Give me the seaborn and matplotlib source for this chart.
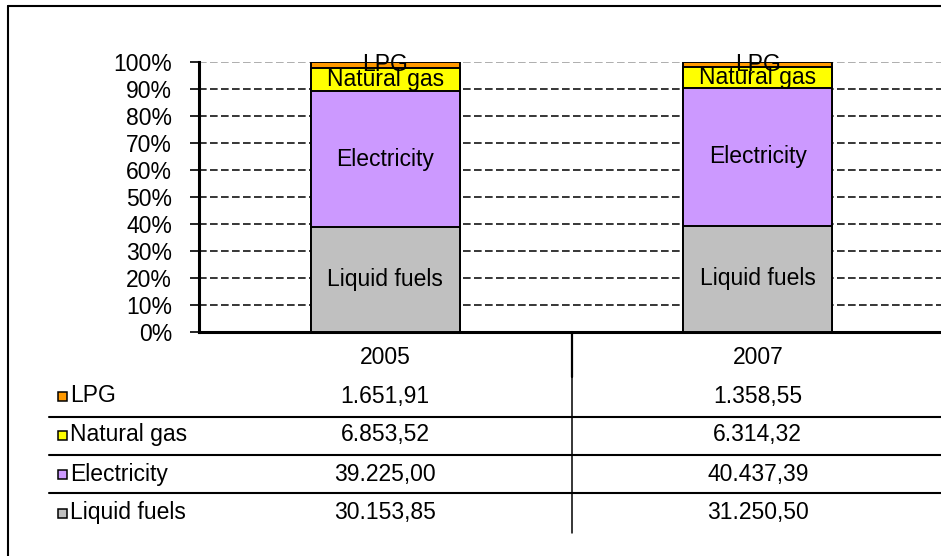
import numpy as np
import pandas as pd
import matplotlib
matplotlib.use("Agg")
import matplotlib.pyplot as plt
from matplotlib.lines import Line2D
from matplotlib.patches import Rectangle
import seaborn as sns

# data
years = ["2005", "2007"]
series_names = ["Liquid fuels", "Electricity", "Natural gas", "LPG"]
liquid_fuels = [30153.85, 31250.50]
electricity = [39225.00, 40437.39]
natural_gas = [6853.52, 6314.32]
lpg = [1651.91, 1358.55]
series_colors = ["#C0C0C0", "#CC99FF", "#FFFF00", "#FF9900"]
y_ticks = [0, 10, 20, 30, 40, 50, 60, 70, 80, 90, 100]

df = pd.DataFrame({"year": years, "Liquid fuels": liquid_fuels,
                   "Electricity": electricity, "Natural gas": natural_gas,
                   "LPG": lpg})
share = df[series_names].div(df[series_names].sum(axis=1), axis=0) * 100
cum = share.cumsum(axis=1)

sns.set_style("white")
plt.rcParams["font.family"] = ["Liberation Sans", "DejaVu Sans"]
plt.rcParams["font.size"] = 16.5
plt.rcParams["text.color"] = "black"

W, H = 941, 556
fig = plt.figure(figsize=(W / 100, H / 100), dpi=100)
ax = fig.add_axes([199 / W, 1 - 332 / H, 745 / W, 270 / H])

# stacked look: draw cumulative bars from the tallest down
for name, color in reversed(list(zip(series_names, series_colors))):
    sns.barplot(x=df["year"], y=cum[name], color=color, saturation=1,
                edgecolor="black", linewidth=1.4, width=0.4,
                errorbar=None, ax=ax, zorder=3)

ax.set_xlim(-0.5, 1.5)
ax.set_ylim(0, 100)
ax.set_xlabel("")
ax.set_ylabel("")
ax.set_xticks([])
ax.set_yticks(y_ticks)
ax.set_yticklabels([f"{t}%" for t in y_ticks])
ax.tick_params(axis="y", left=True, length=6.5, width=1.2, pad=13,
               color="black", labelcolor="black")

ax.set_axisbelow(True)
ax.yaxis.grid(True, color="black", linestyle=(0, (5, 2.2)), linewidth=1.1)
gl = ax.get_ygridlines()
gl[-1].set_color("#999999")
gl[0].set_visible(False)

for side in ["top", "right"]:
    ax.spines[side].set_visible(False)
for side in ["left", "bottom"]:
    ax.spines[side].set_linewidth(2.2)
    ax.spines[side].set_color("black")

# segment labels
for i in range(len(years)):
    bottom = 0
    for name in series_names:
        top = cum[name][i]
        ax.text(i, (bottom + top) / 2, name, ha="center", va="center",
                fontsize=16.5, color="black", zorder=5)
        bottom = top

# data table below the plot
xt = ax.get_xaxis_transform()
def ypos(px):
    return (332 - px) / 270

for i, yr in enumerate(years):
    ax.text(i, ypos(357), yr, transform=xt, ha="center", va="center",
            clip_on=False)

row_y = [396, 435, 474, 513]
rows = list(reversed(series_names))
row_colors = list(reversed(series_colors))
row_vals = {"LPG": lpg, "Natural gas": natural_gas,
            "Electricity": electricity, "Liquid fuels": liquid_fuels}

def euro(v):
    return f"{v:,.2f}".replace(",", "X").replace(".", ",").replace("X", ".")

for name, color, y in zip(rows, row_colors, row_y):
    fig.add_artist(Rectangle((58 / W, 1 - (y + 4.5) / H), 9 / W, 9 / H,
                             transform=fig.transFigure, facecolor=color,
                             edgecolor="black", linewidth=1.1))
    fig.text(70 / W, 1 - y / H, name, ha="left", va="center")
    for i, v in enumerate(row_vals[name]):
        ax.text(i, ypos(y), euro(v), transform=xt, ha="center", va="center",
                clip_on=False)

for y in [416.5, 454.5, 493]:
    fig.add_artist(Line2D([49 / W, 1], [1 - y / H, 1 - y / H],
                          transform=fig.transFigure, color="black", lw=1.5))

ax.plot([0.5, 0.5], [0, ypos(377)], transform=xt, color="black", lw=1.6,
        clip_on=False)
ax.plot([0.5, 0.5], [ypos(377), ypos(533)], transform=xt, color="black",
        lw=1.1, clip_on=False)

# outer chart border (cut off at right and bottom)
fig.add_artist(Line2D([8 / W, 8 / W], [0, 1 - 6 / H],
                      transform=fig.transFigure, color="black", lw=1.5))
fig.add_artist(Line2D([8 / W, 1], [1 - 6 / H, 1 - 6 / H],
                      transform=fig.transFigure, color="black", lw=1.5))

fig.savefig("out.png", dpi=100)
